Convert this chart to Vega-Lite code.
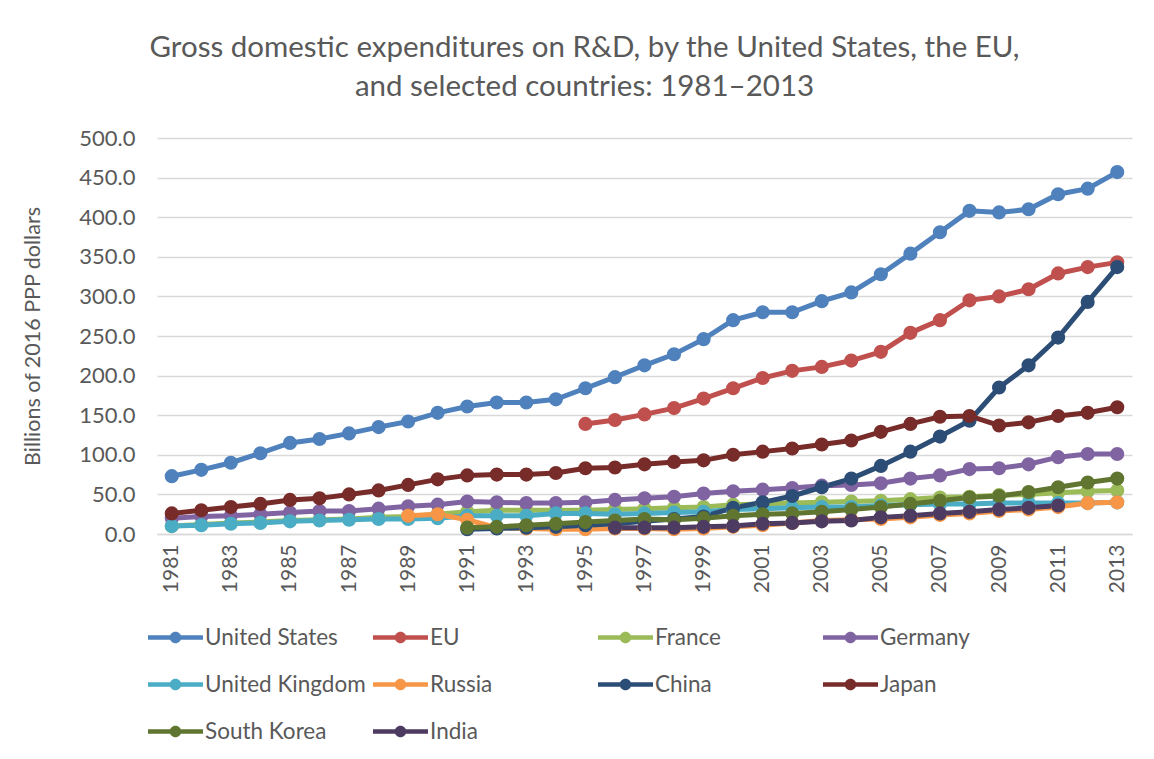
{
  "$schema": "https://vega.github.io/schema/vega-lite/v6.json",
  "autosize": {"type": "none"},
  "width": 975,
  "height": 396,
  "padding": {"left": 157, "top": 138, "right": 22, "bottom": 225},
  "background": "white",
  "title": {
    "text": ["Gross domestic expenditures on R&D, by the United States, the EU,", "and selected countries: 1981–2013"],
    "font": "Lato",
    "fontSize": 29.5,
    "fontWeight": "normal",
    "color": "#595959",
    "anchor": "middle",
    "dx": -60,
    "offset": 25,
    "lineHeight": 39
  },
  "data": {
    "values": [
      {"s":"United States","y":1981,"v":73},{"s":"United States","y":1982,"v":81},{"s":"United States","y":1983,"v":90},{"s":"United States","y":1984,"v":102},{"s":"United States","y":1985,"v":115},{"s":"United States","y":1986,"v":120},{"s":"United States","y":1987,"v":127},{"s":"United States","y":1988,"v":135},{"s":"United States","y":1989,"v":142},{"s":"United States","y":1990,"v":153},{"s":"United States","y":1991,"v":161},{"s":"United States","y":1992,"v":166},{"s":"United States","y":1993,"v":166},{"s":"United States","y":1994,"v":170},{"s":"United States","y":1995,"v":184},{"s":"United States","y":1996,"v":198},{"s":"United States","y":1997,"v":213},{"s":"United States","y":1998,"v":227},{"s":"United States","y":1999,"v":246},{"s":"United States","y":2000,"v":270},{"s":"United States","y":2001,"v":280},{"s":"United States","y":2002,"v":280},{"s":"United States","y":2003,"v":294},{"s":"United States","y":2004,"v":305},{"s":"United States","y":2005,"v":328},{"s":"United States","y":2006,"v":354},{"s":"United States","y":2007,"v":381},{"s":"United States","y":2008,"v":408},{"s":"United States","y":2009,"v":406},{"s":"United States","y":2010,"v":410},{"s":"United States","y":2011,"v":429},{"s":"United States","y":2012,"v":436},{"s":"United States","y":2013,"v":457},
      {"s":"EU","y":1995,"v":139},{"s":"EU","y":1996,"v":144},{"s":"EU","y":1997,"v":151},{"s":"EU","y":1998,"v":159},{"s":"EU","y":1999,"v":171},{"s":"EU","y":2000,"v":184},{"s":"EU","y":2001,"v":197},{"s":"EU","y":2002,"v":206},{"s":"EU","y":2003,"v":211},{"s":"EU","y":2004,"v":219},{"s":"EU","y":2005,"v":230},{"s":"EU","y":2006,"v":254},{"s":"EU","y":2007,"v":270},{"s":"EU","y":2008,"v":295},{"s":"EU","y":2009,"v":300},{"s":"EU","y":2010,"v":309},{"s":"EU","y":2011,"v":329},{"s":"EU","y":2012,"v":337},{"s":"EU","y":2013,"v":343},
      {"s":"France","y":1981,"v":10},{"s":"France","y":1982,"v":12},{"s":"France","y":1983,"v":14},{"s":"France","y":1984,"v":15},{"s":"France","y":1985,"v":17},{"s":"France","y":1986,"v":18},{"s":"France","y":1987,"v":19},{"s":"France","y":1988,"v":21},{"s":"France","y":1989,"v":22},{"s":"France","y":1990,"v":25},{"s":"France","y":1991,"v":28},{"s":"France","y":1992,"v":30},{"s":"France","y":1993,"v":30},{"s":"France","y":1994,"v":30},{"s":"France","y":1995,"v":30},{"s":"France","y":1996,"v":31},{"s":"France","y":1997,"v":32},{"s":"France","y":1998,"v":33},{"s":"France","y":1999,"v":34},{"s":"France","y":2000,"v":37},{"s":"France","y":2001,"v":38},{"s":"France","y":2002,"v":39},{"s":"France","y":2003,"v":40},{"s":"France","y":2004,"v":41},{"s":"France","y":2005,"v":42},{"s":"France","y":2006,"v":44},{"s":"France","y":2007,"v":46},{"s":"France","y":2008,"v":47},{"s":"France","y":2009,"v":49},{"s":"France","y":2010,"v":50},{"s":"France","y":2011,"v":52},{"s":"France","y":2012,"v":54},{"s":"France","y":2013,"v":55},
      {"s":"Germany","y":1981,"v":20},{"s":"Germany","y":1982,"v":22},{"s":"Germany","y":1983,"v":23},{"s":"Germany","y":1984,"v":25},{"s":"Germany","y":1985,"v":27},{"s":"Germany","y":1986,"v":29},{"s":"Germany","y":1987,"v":29},{"s":"Germany","y":1988,"v":32},{"s":"Germany","y":1989,"v":35},{"s":"Germany","y":1990,"v":37},{"s":"Germany","y":1991,"v":41},{"s":"Germany","y":1992,"v":40},{"s":"Germany","y":1993,"v":39},{"s":"Germany","y":1994,"v":39},{"s":"Germany","y":1995,"v":40},{"s":"Germany","y":1996,"v":43},{"s":"Germany","y":1997,"v":45},{"s":"Germany","y":1998,"v":47},{"s":"Germany","y":1999,"v":51},{"s":"Germany","y":2000,"v":54},{"s":"Germany","y":2001,"v":56},{"s":"Germany","y":2002,"v":58},{"s":"Germany","y":2003,"v":61},{"s":"Germany","y":2004,"v":62},{"s":"Germany","y":2005,"v":64},{"s":"Germany","y":2006,"v":70},{"s":"Germany","y":2007,"v":74},{"s":"Germany","y":2008,"v":82},{"s":"Germany","y":2009,"v":83},{"s":"Germany","y":2010,"v":88},{"s":"Germany","y":2011,"v":97},{"s":"Germany","y":2012,"v":101},{"s":"Germany","y":2013,"v":101},
      {"s":"United Kingdom","y":1981,"v":10},{"s":"United Kingdom","y":1982,"v":11},{"s":"United Kingdom","y":1983,"v":13},{"s":"United Kingdom","y":1984,"v":14},{"s":"United Kingdom","y":1985,"v":16},{"s":"United Kingdom","y":1986,"v":17},{"s":"United Kingdom","y":1987,"v":18},{"s":"United Kingdom","y":1988,"v":19},{"s":"United Kingdom","y":1989,"v":19},{"s":"United Kingdom","y":1990,"v":20},{"s":"United Kingdom","y":1991,"v":23},{"s":"United Kingdom","y":1992,"v":23},{"s":"United Kingdom","y":1993,"v":23},{"s":"United Kingdom","y":1994,"v":26},{"s":"United Kingdom","y":1995,"v":26},{"s":"United Kingdom","y":1996,"v":25},{"s":"United Kingdom","y":1997,"v":26},{"s":"United Kingdom","y":1998,"v":27},{"s":"United Kingdom","y":1999,"v":28},{"s":"United Kingdom","y":2000,"v":31},{"s":"United Kingdom","y":2001,"v":32},{"s":"United Kingdom","y":2002,"v":33},{"s":"United Kingdom","y":2003,"v":34},{"s":"United Kingdom","y":2004,"v":34},{"s":"United Kingdom","y":2005,"v":36},{"s":"United Kingdom","y":2006,"v":37},{"s":"United Kingdom","y":2007,"v":38},{"s":"United Kingdom","y":2008,"v":38},{"s":"United Kingdom","y":2009,"v":39},{"s":"United Kingdom","y":2010,"v":39},{"s":"United Kingdom","y":2011,"v":39},{"s":"United Kingdom","y":2012,"v":39},{"s":"United Kingdom","y":2013,"v":40},
      {"s":"Russia","y":1989,"v":23},{"s":"Russia","y":1990,"v":25},{"s":"Russia","y":1991,"v":18},{"s":"Russia","y":1992,"v":8},{"s":"Russia","y":1993,"v":7},{"s":"Russia","y":1994,"v":6},{"s":"Russia","y":1995,"v":6},{"s":"Russia","y":1996,"v":7},{"s":"Russia","y":1997,"v":7},{"s":"Russia","y":1998,"v":6},{"s":"Russia","y":1999,"v":7},{"s":"Russia","y":2000,"v":9},{"s":"Russia","y":2001,"v":11},{"s":"Russia","y":2002,"v":14},{"s":"Russia","y":2003,"v":17},{"s":"Russia","y":2004,"v":18},{"s":"Russia","y":2005,"v":19},{"s":"Russia","y":2006,"v":21},{"s":"Russia","y":2007,"v":24},{"s":"Russia","y":2008,"v":26},{"s":"Russia","y":2009,"v":29},{"s":"Russia","y":2010,"v":31},{"s":"Russia","y":2011,"v":34},{"s":"Russia","y":2012,"v":39},{"s":"Russia","y":2013,"v":40},
      {"s":"China","y":1991,"v":6},{"s":"China","y":1992,"v":7},{"s":"China","y":1993,"v":8},{"s":"China","y":1994,"v":9},{"s":"China","y":1995,"v":11},{"s":"China","y":1996,"v":13},{"s":"China","y":1997,"v":16},{"s":"China","y":1998,"v":19},{"s":"China","y":1999,"v":22},{"s":"China","y":2000,"v":33},{"s":"China","y":2001,"v":40},{"s":"China","y":2002,"v":48},{"s":"China","y":2003,"v":59},{"s":"China","y":2004,"v":70},{"s":"China","y":2005,"v":86},{"s":"China","y":2006,"v":104},{"s":"China","y":2007,"v":123},{"s":"China","y":2008,"v":143},{"s":"China","y":2009,"v":185},{"s":"China","y":2010,"v":213},{"s":"China","y":2011,"v":248},{"s":"China","y":2012,"v":293},{"s":"China","y":2013,"v":337},
      {"s":"Japan","y":1981,"v":26},{"s":"Japan","y":1982,"v":30},{"s":"Japan","y":1983,"v":34},{"s":"Japan","y":1984,"v":38},{"s":"Japan","y":1985,"v":43},{"s":"Japan","y":1986,"v":45},{"s":"Japan","y":1987,"v":50},{"s":"Japan","y":1988,"v":55},{"s":"Japan","y":1989,"v":62},{"s":"Japan","y":1990,"v":69},{"s":"Japan","y":1991,"v":74},{"s":"Japan","y":1992,"v":75},{"s":"Japan","y":1993,"v":75},{"s":"Japan","y":1994,"v":77},{"s":"Japan","y":1995,"v":83},{"s":"Japan","y":1996,"v":84},{"s":"Japan","y":1997,"v":88},{"s":"Japan","y":1998,"v":91},{"s":"Japan","y":1999,"v":93},{"s":"Japan","y":2000,"v":100},{"s":"Japan","y":2001,"v":104},{"s":"Japan","y":2002,"v":108},{"s":"Japan","y":2003,"v":113},{"s":"Japan","y":2004,"v":118},{"s":"Japan","y":2005,"v":129},{"s":"Japan","y":2006,"v":139},{"s":"Japan","y":2007,"v":148},{"s":"Japan","y":2008,"v":149},{"s":"Japan","y":2009,"v":137},{"s":"Japan","y":2010,"v":141},{"s":"Japan","y":2011,"v":149},{"s":"Japan","y":2012,"v":153},{"s":"Japan","y":2013,"v":160},
      {"s":"South Korea","y":1991,"v":8},{"s":"South Korea","y":1992,"v":9},{"s":"South Korea","y":1993,"v":11},{"s":"South Korea","y":1994,"v":13},{"s":"South Korea","y":1995,"v":15},{"s":"South Korea","y":1996,"v":17},{"s":"South Korea","y":1997,"v":19},{"s":"South Korea","y":1998,"v":18},{"s":"South Korea","y":1999,"v":20},{"s":"South Korea","y":2000,"v":23},{"s":"South Korea","y":2001,"v":25},{"s":"South Korea","y":2002,"v":26},{"s":"South Korea","y":2003,"v":28},{"s":"South Korea","y":2004,"v":31},{"s":"South Korea","y":2005,"v":34},{"s":"South Korea","y":2006,"v":38},{"s":"South Korea","y":2007,"v":42},{"s":"South Korea","y":2008,"v":46},{"s":"South Korea","y":2009,"v":48},{"s":"South Korea","y":2010,"v":53},{"s":"South Korea","y":2011,"v":59},{"s":"South Korea","y":2012,"v":65},{"s":"South Korea","y":2013,"v":70},
      {"s":"India","y":1996,"v":8},{"s":"India","y":1997,"v":8},{"s":"India","y":1998,"v":8},{"s":"India","y":1999,"v":9},{"s":"India","y":2000,"v":10},{"s":"India","y":2001,"v":13},{"s":"India","y":2002,"v":14},{"s":"India","y":2003,"v":16},{"s":"India","y":2004,"v":17},{"s":"India","y":2005,"v":21},{"s":"India","y":2006,"v":23},{"s":"India","y":2007,"v":26},{"s":"India","y":2008,"v":28},{"s":"India","y":2009,"v":31},{"s":"India","y":2010,"v":33},{"s":"India","y":2011,"v":36}
    ]
  },
  "encoding": {
    "x": {
      "field": "y",
      "type": "ordinal",
      "scale": {"type": "point", "padding": 0.5},
      "axis": {
        "title": null,
        "values": [1981,1983,1985,1987,1989,1991,1993,1995,1997,1999,2001,2003,2005,2007,2009,2011,2013],
        "labelAngle": -90,
        "labelFont": "Lato",
        "labelFontSize": 21,
        "labelColor": "#595959",
        "labelPadding": 10,
        "ticks": false,
        "domainColor": "#D9D9D9",
        "domainWidth": 1.5,
        "grid": false
      }
    },
    "y": {
      "field": "v",
      "type": "quantitative",
      "scale": {"domain": [0, 500], "nice": false},
      "axis": {
        "title": "Billions of 2016 PPP dollars",
        "titleFont": "Lato",
        "titleFontSize": 21.5,
        "titleFontWeight": "normal",
        "titleColor": "#595959",
        "titlePadding": 34,
        "values": [0,50,100,150,200,250,300,350,400,450,500],
        "format": ".1f",
        "labelFont": "Lato",
        "labelFontSize": 22,
        "labelColor": "#595959",
        "labelPadding": 22,
        "ticks": false,
        "domain": false,
        "grid": true,
        "gridColor": "#D9D9D9",
        "gridWidth": 1.5
      }
    },
    "color": {
      "field": "s",
      "type": "nominal",
      "scale": {
        "domain": ["United States","EU","France","Germany","United Kingdom","Russia","China","Japan","South Korea","India"],
        "range": ["#4F81BD","#C0504D","#9BBB59","#8064A2","#4BACC6","#F79646","#2C4D75","#772C2A","#5F7530","#4D3B62"]
      },
      "legend": {
        "title": null,
        "orient": "none",
        "legendX": -9,
        "legendY": 472,
        "columns": 4,
        "direction": "horizontal",
        "gridAlign": "all",
        "columnPadding": 7,
        "rowPadding": 8,
        "padding": 0,
        "symbolType": "M-1,-0.085L1,-0.085L1,0.085L-1,0.085Z M0.21,0 A0.21,0.21 0 1,1 -0.21,0 A0.21,0.21 0 1,1 0.21,0Z",
        "symbolSize": 3025,
        "labelFont": "Lato",
        "labelFontSize": 22.5,
        "labelColor": "#595959",
        "labelOffset": 2,
        "labelLimit": 300,
        "encode": {
          "symbols": {
            "update": {
              "fill": {"scale": "color", "field": "value"},
              "stroke": {"value": "transparent"},
              "strokeWidth": {"value": 0},
              "opacity": {"value": 1}
            }
          }
        }
      }
    }
  },
  "layer": [
    {"mark": {"type": "line", "strokeWidth": 5}},
    {"mark": {"type": "point", "filled": true, "size": 200, "opacity": 1}}
  ],
  "config": {"view": {"stroke": null}}
}
